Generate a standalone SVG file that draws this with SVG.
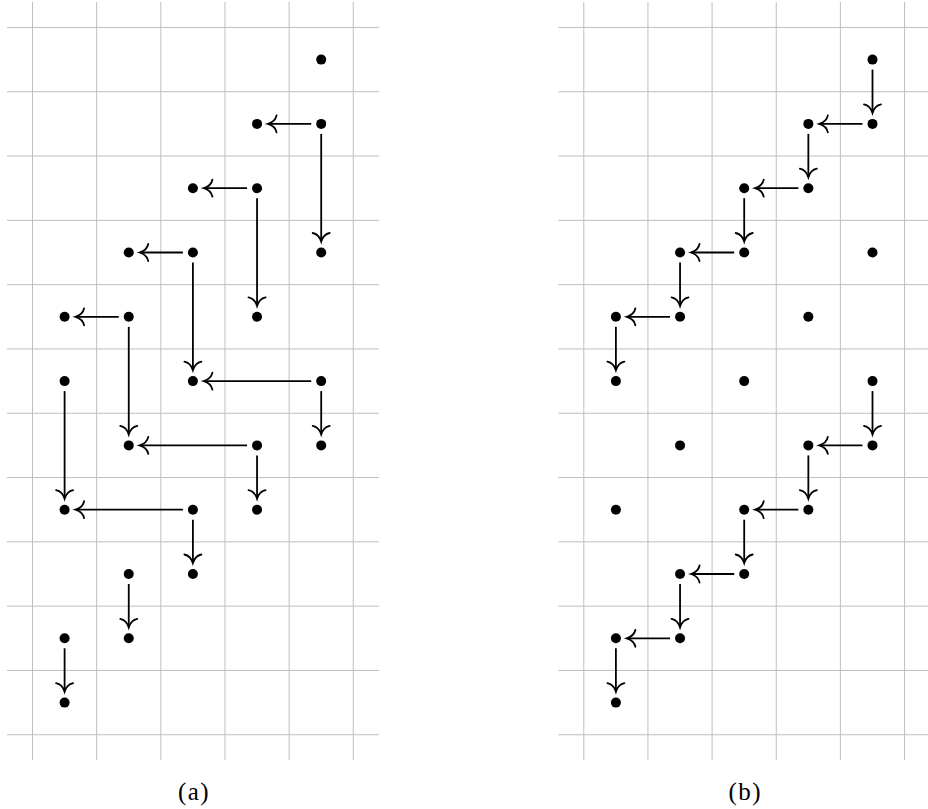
<svg xmlns="http://www.w3.org/2000/svg" xmlns:xlink="http://www.w3.org/1999/xlink" width="928" height="809" viewBox="0 0 928 809">
<style>
.grid line{stroke:#bfbfbf;stroke-width:1;fill:none}
.dot{fill:#000}
.arr line{stroke:#000;stroke-width:1.8;fill:none;marker-end:url(#to)}
</style>
<defs>
<marker id="to" markerUnits="userSpaceOnUse" orient="auto" refX="0" refY="0" markerWidth="20" markerHeight="20" overflow="visible">
<path d="M -8,-8.5 C -7,-3.5 -2,-0.8 0.6,0 C -2,0.8 -7,3.5 -8,8.5" fill="none" stroke="#000" stroke-width="1.8" stroke-linecap="round"/>
</marker>
<g id="gridA" class="grid">
<line x1="32.5" y1="2" x2="32.5" y2="760"/>
<line x1="96.65" y1="2" x2="96.65" y2="760"/>
<line x1="160.8" y1="2" x2="160.8" y2="760"/>
<line x1="224.95" y1="2" x2="224.95" y2="760"/>
<line x1="289.1" y1="2" x2="289.1" y2="760"/>
<line x1="353.25" y1="2" x2="353.25" y2="760"/>
<line x1="7" y1="27.45" x2="379" y2="27.45"/>
<line x1="7" y1="91.75" x2="379" y2="91.75"/>
<line x1="7" y1="156.05" x2="379" y2="156.05"/>
<line x1="7" y1="220.35" x2="379" y2="220.35"/>
<line x1="7" y1="284.65" x2="379" y2="284.65"/>
<line x1="7" y1="348.95" x2="379" y2="348.95"/>
<line x1="7" y1="413.25" x2="379" y2="413.25"/>
<line x1="7" y1="477.55" x2="379" y2="477.55"/>
<line x1="7" y1="541.85" x2="379" y2="541.85"/>
<line x1="7" y1="606.15" x2="379" y2="606.15"/>
<line x1="7" y1="670.45" x2="379" y2="670.45"/>
<line x1="7" y1="734.75" x2="379" y2="734.75"/>
</g>
</defs>

<g id="grid-a"><use xlink:href="#gridA" href="#gridA"/></g>
<g id="grid-b"><use xlink:href="#gridA" href="#gridA" transform="translate(551.3,0)"/></g>

<g id="connectors-a" class="arr">
<line x1="311.2" y1="123.9" x2="268.55" y2="123.9"/>
<line x1="321.2" y1="133.9" x2="321.2" y2="241"/>
<line x1="247.05" y1="188.2" x2="204.4" y2="188.2"/>
<line x1="257.05" y1="198.2" x2="257.05" y2="305.3"/>
<line x1="182.9" y1="252.5" x2="140.25" y2="252.5"/>
<line x1="192.9" y1="262.5" x2="192.9" y2="369.6"/>
<line x1="118.75" y1="316.8" x2="76.1" y2="316.8"/>
<line x1="128.75" y1="326.8" x2="128.75" y2="433.9"/>
<line x1="64.6" y1="391.1" x2="64.6" y2="498.2"/>
<line x1="311.2" y1="381.1" x2="204.4" y2="381.1"/>
<line x1="321.2" y1="391.1" x2="321.2" y2="433.9"/>
<line x1="247.05" y1="445.4" x2="140.25" y2="445.4"/>
<line x1="257.05" y1="455.4" x2="257.05" y2="498.2"/>
<line x1="182.9" y1="509.7" x2="76.1" y2="509.7"/>
<line x1="192.9" y1="519.7" x2="192.9" y2="562.5"/>
<line x1="128.75" y1="584" x2="128.75" y2="626.8"/>
<line x1="64.6" y1="648.3" x2="64.6" y2="691.1"/>
</g>

<g id="connectors-b" class="arr">
<line x1="872.5" y1="69.6" x2="872.5" y2="112.4"/>
<line x1="862.5" y1="123.9" x2="819.85" y2="123.9"/>
<line x1="808.35" y1="133.9" x2="808.35" y2="176.7"/>
<line x1="798.35" y1="188.2" x2="755.7" y2="188.2"/>
<line x1="744.2" y1="198.2" x2="744.2" y2="241"/>
<line x1="734.2" y1="252.5" x2="691.55" y2="252.5"/>
<line x1="680.05" y1="262.5" x2="680.05" y2="305.3"/>
<line x1="670.05" y1="316.8" x2="627.4" y2="316.8"/>
<line x1="615.9" y1="326.8" x2="615.9" y2="369.6"/>
<line x1="872.5" y1="391.1" x2="872.5" y2="433.9"/>
<line x1="862.5" y1="445.4" x2="819.85" y2="445.4"/>
<line x1="808.35" y1="455.4" x2="808.35" y2="498.2"/>
<line x1="798.35" y1="509.7" x2="755.7" y2="509.7"/>
<line x1="744.2" y1="519.7" x2="744.2" y2="562.5"/>
<line x1="734.2" y1="574" x2="691.55" y2="574"/>
<line x1="680.05" y1="584" x2="680.05" y2="626.8"/>
<line x1="670.05" y1="638.3" x2="627.4" y2="638.3"/>
<line x1="615.9" y1="648.3" x2="615.9" y2="691.1"/>
</g>

<g id="nodes-a">
<g id="a-r0c4"><circle class="dot" cx="321.2" cy="59.6" r="5"/></g>
<g id="a-r1c3"><circle class="dot" cx="257.05" cy="123.9" r="5"/></g>
<g id="a-r1c4"><circle class="dot" cx="321.2" cy="123.9" r="5"/></g>
<g id="a-r2c2"><circle class="dot" cx="192.9" cy="188.2" r="5"/></g>
<g id="a-r2c3"><circle class="dot" cx="257.05" cy="188.2" r="5"/></g>
<g id="a-r3c1"><circle class="dot" cx="128.75" cy="252.5" r="5"/></g>
<g id="a-r3c2"><circle class="dot" cx="192.9" cy="252.5" r="5"/></g>
<g id="a-r3c4"><circle class="dot" cx="321.2" cy="252.5" r="5"/></g>
<g id="a-r4c0"><circle class="dot" cx="64.6" cy="316.8" r="5"/></g>
<g id="a-r4c1"><circle class="dot" cx="128.75" cy="316.8" r="5"/></g>
<g id="a-r4c3"><circle class="dot" cx="257.05" cy="316.8" r="5"/></g>
<g id="a-r5c0"><circle class="dot" cx="64.6" cy="381.1" r="5"/></g>
<g id="a-r5c2"><circle class="dot" cx="192.9" cy="381.1" r="5"/></g>
<g id="a-r5c4"><circle class="dot" cx="321.2" cy="381.1" r="5"/></g>
<g id="a-r6c1"><circle class="dot" cx="128.75" cy="445.4" r="5"/></g>
<g id="a-r6c3"><circle class="dot" cx="257.05" cy="445.4" r="5"/></g>
<g id="a-r6c4"><circle class="dot" cx="321.2" cy="445.4" r="5"/></g>
<g id="a-r7c0"><circle class="dot" cx="64.6" cy="509.7" r="5"/></g>
<g id="a-r7c2"><circle class="dot" cx="192.9" cy="509.7" r="5"/></g>
<g id="a-r7c3"><circle class="dot" cx="257.05" cy="509.7" r="5"/></g>
<g id="a-r8c1"><circle class="dot" cx="128.75" cy="574" r="5"/></g>
<g id="a-r8c2"><circle class="dot" cx="192.9" cy="574" r="5"/></g>
<g id="a-r9c0"><circle class="dot" cx="64.6" cy="638.3" r="5"/></g>
<g id="a-r9c1"><circle class="dot" cx="128.75" cy="638.3" r="5"/></g>
<g id="a-r10c0"><circle class="dot" cx="64.6" cy="702.6" r="5"/></g>
</g>

<g id="nodes-b">
<g id="b-r0c4"><circle class="dot" cx="872.5" cy="59.6" r="5"/></g>
<g id="b-r1c3"><circle class="dot" cx="808.35" cy="123.9" r="5"/></g>
<g id="b-r1c4"><circle class="dot" cx="872.5" cy="123.9" r="5"/></g>
<g id="b-r2c2"><circle class="dot" cx="744.2" cy="188.2" r="5"/></g>
<g id="b-r2c3"><circle class="dot" cx="808.35" cy="188.2" r="5"/></g>
<g id="b-r3c1"><circle class="dot" cx="680.05" cy="252.5" r="5"/></g>
<g id="b-r3c2"><circle class="dot" cx="744.2" cy="252.5" r="5"/></g>
<g id="b-r3c4"><circle class="dot" cx="872.5" cy="252.5" r="5"/></g>
<g id="b-r4c0"><circle class="dot" cx="615.9" cy="316.8" r="5"/></g>
<g id="b-r4c1"><circle class="dot" cx="680.05" cy="316.8" r="5"/></g>
<g id="b-r4c3"><circle class="dot" cx="808.35" cy="316.8" r="5"/></g>
<g id="b-r5c0"><circle class="dot" cx="615.9" cy="381.1" r="5"/></g>
<g id="b-r5c2"><circle class="dot" cx="744.2" cy="381.1" r="5"/></g>
<g id="b-r5c4"><circle class="dot" cx="872.5" cy="381.1" r="5"/></g>
<g id="b-r6c1"><circle class="dot" cx="680.05" cy="445.4" r="5"/></g>
<g id="b-r6c3"><circle class="dot" cx="808.35" cy="445.4" r="5"/></g>
<g id="b-r6c4"><circle class="dot" cx="872.5" cy="445.4" r="5"/></g>
<g id="b-r7c0"><circle class="dot" cx="615.9" cy="509.7" r="5"/></g>
<g id="b-r7c2"><circle class="dot" cx="744.2" cy="509.7" r="5"/></g>
<g id="b-r7c3"><circle class="dot" cx="808.35" cy="509.7" r="5"/></g>
<g id="b-r8c1"><circle class="dot" cx="680.05" cy="574" r="5"/></g>
<g id="b-r8c2"><circle class="dot" cx="744.2" cy="574" r="5"/></g>
<g id="b-r9c0"><circle class="dot" cx="615.9" cy="638.3" r="5"/></g>
<g id="b-r9c1"><circle class="dot" cx="680.05" cy="638.3" r="5"/></g>
<g id="b-r10c0"><circle class="dot" cx="615.9" cy="702.6" r="5"/></g>
</g>

<g id="labels" font-family="'Liberation Serif', 'DejaVu Serif', serif" font-size="25" text-anchor="middle" fill="#000" letter-spacing="1.5">
<text x="194" y="800">(a)</text>
<text x="745.3" y="800">(b)</text>
</g>
</svg>
